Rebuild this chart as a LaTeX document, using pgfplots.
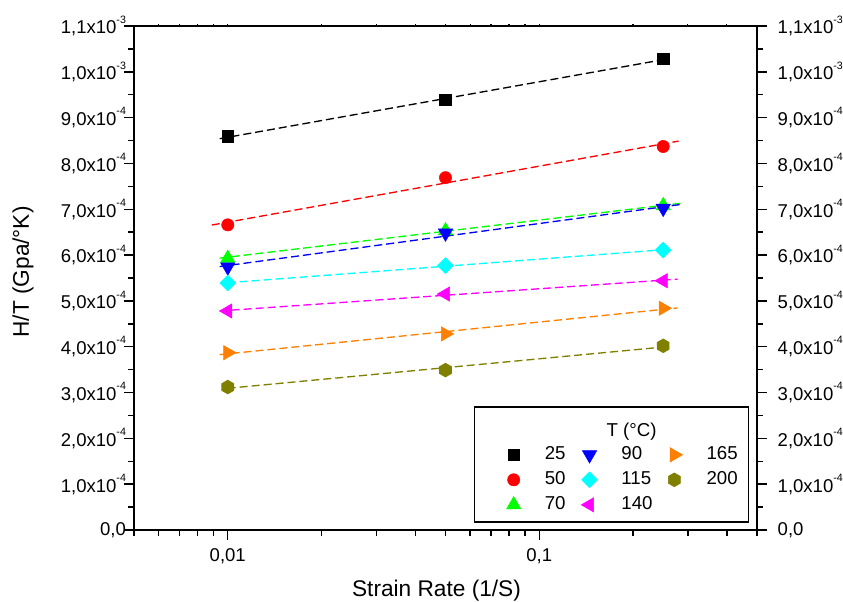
\documentclass[border=0pt]{standalone}
\usepackage{pgfplots}
\pgfplotsset{compat=1.18}
\usepackage{fontspec}
\setmainfont{Liberation Sans}
\usetikzlibrary{plotmarks}

\definecolor{c25}{RGB}{0,0,0}
\definecolor{c50}{RGB}{255,0,0}
\definecolor{c70}{RGB}{0,255,0}
\definecolor{c90}{RGB}{0,0,255}
\definecolor{c115}{RGB}{0,255,255}
\definecolor{c140}{RGB}{255,0,255}
\definecolor{c165}{RGB}{255,128,0}
\definecolor{c200}{RGB}{128,128,0}

% filled hexagon, pointed top
\pgfdeclareplotmark{hexagon*}{%
  \pgfpathmoveto{\pgfqpointpolar{90}{\pgfplotmarksize}}%
  \pgfpathlineto{\pgfqpointpolar{150}{\pgfplotmarksize}}%
  \pgfpathlineto{\pgfqpointpolar{210}{\pgfplotmarksize}}%
  \pgfpathlineto{\pgfqpointpolar{270}{\pgfplotmarksize}}%
  \pgfpathlineto{\pgfqpointpolar{330}{\pgfplotmarksize}}%
  \pgfpathlineto{\pgfqpointpolar{30}{\pgfplotmarksize}}%
  \pgfpathclose
  \pgfusepathqfillstroke}

\newcommand{\sci}[2]{#1x10\raisebox{8pt}{\fontsize{8}{8}\selectfont #2}}

\tikzset{
  m25/.style={c25, mark=square*, mark size=4.3pt, mark options={solid, fill=c25, line width=0.4pt}},
  m50/.style={c50, mark=*, mark size=4.6pt, mark options={solid, fill=c50, line width=0.4pt}},
  m70/.style={c70, mark=triangle*, mark size=6.2pt, mark options={solid, fill=c70, line width=0.4pt}},
  m90/.style={c90, mark=triangle*, mark size=6.2pt, mark options={solid, rotate=180, fill=c90, line width=0.4pt}},
  m115/.style={c115, mark=square*, mark size=4.2pt, mark options={solid, rotate=45, fill=c115, line width=0.4pt}},
  m140/.style={c140, mark=triangle*, mark size=6.2pt, mark options={solid, rotate=90, fill=c140, line width=0.4pt}},
  m165/.style={c165, mark=triangle*, mark size=6.2pt, mark options={solid, rotate=-90, fill=c165, line width=0.4pt}},
  m200/.style={c200, mark=hexagon*, mark size=5.2pt, mark options={solid, fill=c200, line width=0.4pt}},
  fitline/.style={line width=1pt, dash pattern=on 6pt off 3pt},
}

\begin{document}
\begin{tikzpicture}
\begin{axis}[
  scale only axis, width=467.25pt, height=378pt,
  xmode=log, xmin=0.005, xmax=0.5, ymin=0, ymax=1.1e-3,
  scaled y ticks=false,
  tick label style={font=\fontsize{13.9}{16}\selectfont},
  xticklabel style={yshift=-3pt},
  yticklabel style={xshift=5pt},
  tick align=outside,
  axis line style={line width=1.5pt},
  tick style={black, line width=1.1pt},
  major tick length=7.5pt, minor tick length=4.5pt,
  xtick pos=bottom, ytick pos=left,
  xtick={0.01,0.1}, xticklabels={{0,01},{0,1}},
  minor xtick={0.005,0.006,0.007,0.008,0.009,0.02,0.03,0.04,0.05,0.06,0.07,0.08,0.09,0.2,0.3,0.4,0.5},
  ytick={0,1e-4,2e-4,3e-4,4e-4,5e-4,6e-4,7e-4,8e-4,9e-4,1e-3,1.1e-3},
  minor ytick={0.5e-4,1.5e-4,2.5e-4,3.5e-4,4.5e-4,5.5e-4,6.5e-4,7.5e-4,8.5e-4,9.5e-4,10.5e-4},
  yticklabels={{0,0},{\sci{1,0}{-4}},{\sci{2,0}{-4}},{\sci{3,0}{-4}},{\sci{4,0}{-4}},{\sci{5,0}{-4}},{\sci{6,0}{-4}},{\sci{7,0}{-4}},{\sci{8,0}{-4}},{\sci{9,0}{-4}},{\sci{1,0}{-3}},{\sci{1,1}{-3}}},
  xlabel={Strain Rate (1/S)},
  ylabel={H/T (Gpa/°K)},
  label style={font=\fontsize{17}{20}\selectfont},
  xlabel style={at={(axis description cs:0.4856,-0.131)}, anchor=base},
  ylabel style={at={(axis description cs:-0.178,0.512)}, anchor=center},
  legend columns=3,
  legend cell align=left,
  legend style={draw=none, fill=none, inner sep=0pt, outer sep=0pt,
    at={(rel axis cs:0.598,0.167)}, anchor=north west,
    nodes={inner xsep=0pt, inner ysep=0pt, text height=10.5pt, text depth=3pt,
      font=\fontsize{14}{16}\selectfont},
    row sep=5.25pt,
    /tikz/every odd column/.append style={column sep=18pt},
    /tikz/every even column/.append style={column sep=11.75pt}},
]
% legend frame and title
\draw[line width=0.9pt, fill=white] (rel axis cs:0.547,0.016) rectangle (rel axis cs:0.987,0.244);
\node[font=\fontsize{14}{16}\selectfont] at (rel axis cs:0.7986,0.196) {T (°C)};

% linear fits in log(strain rate)
\addplot[fitline, c25, forget plot]  coordinates {(0.00942,8.54e-4) (0.25,10.265e-4)};
\addplot[fitline, c50, forget plot]  coordinates {(0.00889,6.656e-4) (0.28,8.488e-4)};
\addplot[fitline, c70, forget plot]  coordinates {(0.00942,5.934e-4) (0.286,7.133e-4)};
\addplot[fitline, c90, forget plot]  coordinates {(0.00942,5.749e-4) (0.286,7.107e-4)};
\addplot[fitline, c115, forget plot] coordinates {(0.01,5.397e-4) (0.25,6.117e-4)};
\addplot[fitline, c140, forget plot] coordinates {(0.00942,4.781e-4) (0.278,5.475e-4)};
\addplot[fitline, c165, forget plot] coordinates {(0.00942,3.827e-4) (0.278,4.847e-4)};
\addplot[fitline, c200, forget plot] coordinates {(0.01,3.093e-4) (0.25,3.993e-4)};

% measured points
\addplot[only marks, m25, forget plot]  coordinates {(0.01,8.59e-4) (0.05,9.39e-4) (0.25,10.28e-4)};
\addplot[only marks, m50, forget plot]  coordinates {(0.01,6.66e-4) (0.05,7.69e-4) (0.25,8.37e-4)};
\addplot[only marks, m70, forget plot]  coordinates {(0.01,5.93e-4) (0.05,6.53e-4) (0.25,7.08e-4)};
\addplot[only marks, m90, forget plot]  coordinates {(0.01,5.74e-4) (0.05,6.48e-4) (0.25,7.02e-4)};
\addplot[only marks, m115, forget plot] coordinates {(0.01,5.39e-4) (0.05,5.77e-4) (0.25,6.11e-4)};
\addplot[only marks, m140, forget plot] coordinates {(0.01,4.78e-4) (0.05,5.15e-4) (0.25,5.44e-4)};
\addplot[only marks, m165, forget plot] coordinates {(0.01,3.87e-4) (0.05,4.28e-4) (0.25,4.84e-4)};
\addplot[only marks, m200, forget plot] coordinates {(0.01,3.12e-4) (0.05,3.49e-4) (0.25,4.02e-4)};

% legend entries, row by row
\addlegendimage{only marks, m25}  \addlegendentry{25}
\addlegendimage{only marks, m90}  \addlegendentry{90}
\addlegendimage{only marks, m165} \addlegendentry{165}
\addlegendimage{only marks, m50}  \addlegendentry{50}
\addlegendimage{only marks, m115} \addlegendentry{115}
\addlegendimage{only marks, m200} \addlegendentry{200}
\addlegendimage{only marks, m70}  \addlegendentry{70}
\addlegendimage{only marks, m140} \addlegendentry{140}
\end{axis}

% right-hand scale
\begin{axis}[
  scale only axis, width=467.25pt, height=378pt,
  xmin=0.005, xmax=0.5, xmode=log, ymin=0, ymax=1.1e-3,
  scaled y ticks=false,
  tick label style={font=\fontsize{13.9}{16}\selectfont},
  yticklabel style={xshift=4.5pt},
  tick align=outside,
  axis x line=none, axis y line*=right,
  axis line style={line width=1.5pt},
  tick style={black, line width=1.1pt},
  major tick length=7.5pt, minor tick length=4.5pt,
  ytick={0,1e-4,2e-4,3e-4,4e-4,5e-4,6e-4,7e-4,8e-4,9e-4,1e-3,1.1e-3},
  minor ytick={0.5e-4,1.5e-4,2.5e-4,3.5e-4,4.5e-4,5.5e-4,6.5e-4,7.5e-4,8.5e-4,9.5e-4,10.5e-4},
  yticklabels={{0,0},{\sci{1,0}{-4}},{\sci{2,0}{-4}},{\sci{3,0}{-4}},{\sci{4,0}{-4}},{\sci{5,0}{-4}},{\sci{6,0}{-4}},{\sci{7,0}{-4}},{\sci{8,0}{-4}},{\sci{9,0}{-4}},{\sci{1,0}{-3}},{\sci{1,1}{-3}}},
]
\end{axis}

% short ticks along the top edge
\begin{axis}[
  scale only axis, width=467.25pt, height=378pt,
  xmin=0.005, xmax=0.5, xmode=log, ymin=0, ymax=1.1e-3,
  tick align=outside,
  axis y line=none, axis x line*=top,
  axis line style={line width=1.5pt},
  tick style={black, line width=0.9pt},
  major tick length=1.5pt, minor tick length=1.5pt,
  xtick={0.01,0.1}, xticklabels={},
  minor xtick={0.006,0.007,0.008,0.009,0.02,0.03,0.04,0.05,0.06,0.07,0.08,0.09,0.2,0.3,0.4},
]
\end{axis}

% page extent
\pgfresetboundingbox
\path ([shift={(-100.5pt,-53.25pt)}]current axis.south west)
  rectangle ([shift={(64.5pt,19.5pt)}]current axis.north east);
\end{tikzpicture}
\end{document}
